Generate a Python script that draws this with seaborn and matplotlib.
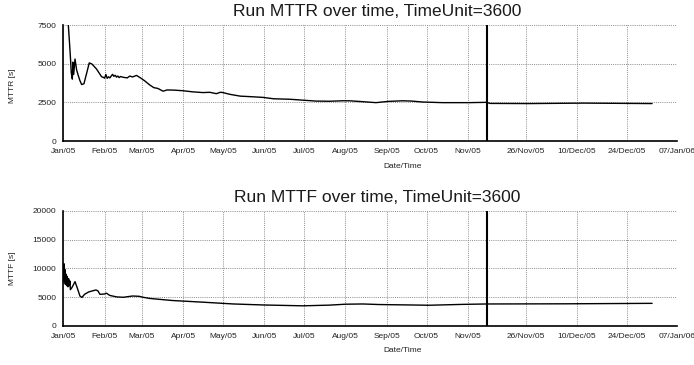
import numpy as np
import pandas as pd
import matplotlib
matplotlib.use("Agg")
import matplotlib.pyplot as plt
import seaborn as sns

# ---- data (days since 01/Jan/2005) ----
mttr_days = [1, 3.7, 5, 5.5, 6, 6.8, 7.2, 7.8, 8.8, 10, 11, 12.5, 13.8, 15.5, 17.6, 19.5,
             21.5, 25, 28.8, 30, 31, 32, 33, 34, 35, 36, 37, 38, 39, 40, 41, 42, 43, 45,
             48, 50, 52, 55, 58, 61, 65, 68, 71, 75, 78, 83, 90, 97, 105, 110, 115, 118,
             120, 125, 133, 140, 150, 158, 170, 180, 190, 200, 210, 215, 222, 235, 244,
             255, 262, 270, 285, 305, 318, 319, 330, 345, 364]
mttr_values = [14000, 7600, 5900, 5200, 4400, 4000, 5100, 4300, 5300, 4600, 4300, 3900,
               3650, 3700, 4400, 5050, 4980, 4650, 4150, 4120, 4060, 4300, 4050, 4150,
               4080, 4200, 4310, 4180, 4250, 4130, 4200, 4100, 4170, 4120, 4080, 4200,
               4140, 4240, 4080, 3900, 3620, 3450, 3400, 3220, 3300, 3290, 3250, 3180,
               3130, 3150, 3060, 3150, 3130, 3020, 2900, 2870, 2820, 2730, 2700, 2640,
               2580, 2570, 2600, 2600, 2560, 2480, 2560, 2600, 2580, 2520, 2480, 2480,
               2500, 2430, 2420, 2450, 2420]

mttf_days = [0.2, 0.5, 0.8, 1.2, 1.6, 2.0, 2.5, 3, 3.5, 4, 4.5, 5.0, 5.3, 6.3, 7.5, 8.8,
             10.5, 12.5, 14, 16, 19, 22, 24.5, 26, 27.5, 31, 32.3, 35, 40, 45, 52, 57,
             60, 65, 72, 82, 102, 128, 150, 180, 200, 212, 225, 238, 260, 275, 300, 318,
             340, 364]
mttf_values = [8000, 10800, 7500, 9800, 7200, 9000, 7000, 8600, 6800, 8200, 7000, 7800,
               6300, 6600, 7100, 7700, 6600, 5200, 4950, 5500, 5900, 6100, 6250, 6100,
               5500, 5550, 5700, 5300, 5050, 4980, 5200, 5150, 4980, 4780, 4630, 4420,
               4170, 3820, 3650, 3500, 3620, 3780, 3820, 3720, 3650, 3600, 3750, 3820,
               3850, 3930]

tick_days = [0, 31, 59, 90, 120, 151, 181, 212, 243, 273, 304, 329, 343, 357, 371]
tick_labels = ["Jan/05", "Feb/05", "Mar/05", "Apr/05", "May/05", "Jun/05", "Jul/05",
               "Aug/05", "Sep/05", "Oct/05", "Nov/05", "26/Nov/05", "10/Dec/05",
               "24/Dec/05", "07/Jan/06"]
break_day = 318          # scale changes here (marked by the heavy vertical line)
mttr_yticks = [0, 2500, 5000, 7500]
mttf_yticks = [0, 5000, 10000, 15000, 20000]

# ---- style ----
sns.set_style("white")
plt.rcParams["font.family"] = ["Liberation Sans", "DejaVu Sans"]

RATIO = 2.705


def fwd(d):
    d = np.asarray(d, dtype=float)
    return np.where(d <= break_day, d, break_day + (d - break_day) * RATIO)


def inv(p):
    p = np.asarray(p, dtype=float)
    return np.where(p <= break_day, p, break_day + (p - break_day) / RATIO)


fig = plt.figure(figsize=(6.94, 3.65), dpi=100)
W, H = 694, 365
ax1 = fig.add_axes([63.3 / W, 1 - 141 / H, 614 / W, 116 / H])
ax2 = fig.add_axes([63.3 / W, 1 - 326 / H, 614 / W, 115.3 / H])

minor_days = []
for a, b in zip(tick_days[:-1], tick_days[1:]):
    for k in range(1, 5):
        minor_days.append(a + (b - a) * k / 5)

panels = [
    (ax1, mttr_days, mttr_values, mttr_yticks, "MTTR [s]",
     "Run MTTR over time, TimeUnit=3600", 11.5, 86),
    (ax2, mttf_days, mttf_values, mttf_yticks, "MTTF [s]",
     "Run MTTF over time, TimeUnit=3600", 197.5, 268),
]

for ax, xd, yd, yt, ylab, title, ty, ly in panels:
    df = pd.DataFrame({"day": xd, "value": yd})
    sns.lineplot(data=df, x="day", y="value", ax=ax, color="black", lw=1.0,
                 estimator=None, sort=True)
    ax.set_xscale("function", functions=(fwd, inv))
    ax.set_xlim(0, tick_days[-1])
    ax.set_ylim(yt[0], yt[-1])
    ax.set_xticks(tick_days)
    ax.set_xticklabels(tick_labels)
    ax.set_xticks(minor_days, minor=True)
    ax.set_yticks(yt)
    ax.set_yticklabels([str(v) for v in yt])
    if ax is ax2:
        ax.set_yticks(np.arange(0, 20001, 500), minor=True)
    ax.set_xlabel("")
    ax.set_ylabel("")
    ax.grid(True, which="major", color="#8c8c8c", lw=0.7, linestyle=(0, (1, 1.2)))
    ax.set_axisbelow(True)
    for s in ("top", "right"):
        ax.spines[s].set_visible(False)
    for s in ("left", "bottom"):
        ax.spines[s].set_color("black")
        ax.spines[s].set_linewidth(1.2)
    ax.tick_params(axis="both", which="major", direction="out", length=3, width=0.8,
                   labelsize=6, colors="black", labelcolor="#222222", pad=2)
    ax.tick_params(axis="both", which="minor", direction="out", length=2, width=0.6,
                   colors="black")
    ax.axvline(break_day, color="black", lw=1.5, zorder=3)
    fig.text(377 / W, 1 - ty / H, title, ha="center", va="center", fontsize=12.5,
             color="#1a1a1a")
    fig.text(12 / W, 1 - ly / H, ylab, ha="center", va="center", rotation=90,
             fontsize=6, color="#222222")

fig.text(402.7 / W, 1 - 166.5 / H, "Date/Time", ha="center", va="center", fontsize=6,
         color="#222222")
fig.text(402.7 / W, 1 - 351 / H, "Date/Time", ha="center", va="center", fontsize=6,
         color="#222222")

fig.savefig("out.png", dpi=100)
